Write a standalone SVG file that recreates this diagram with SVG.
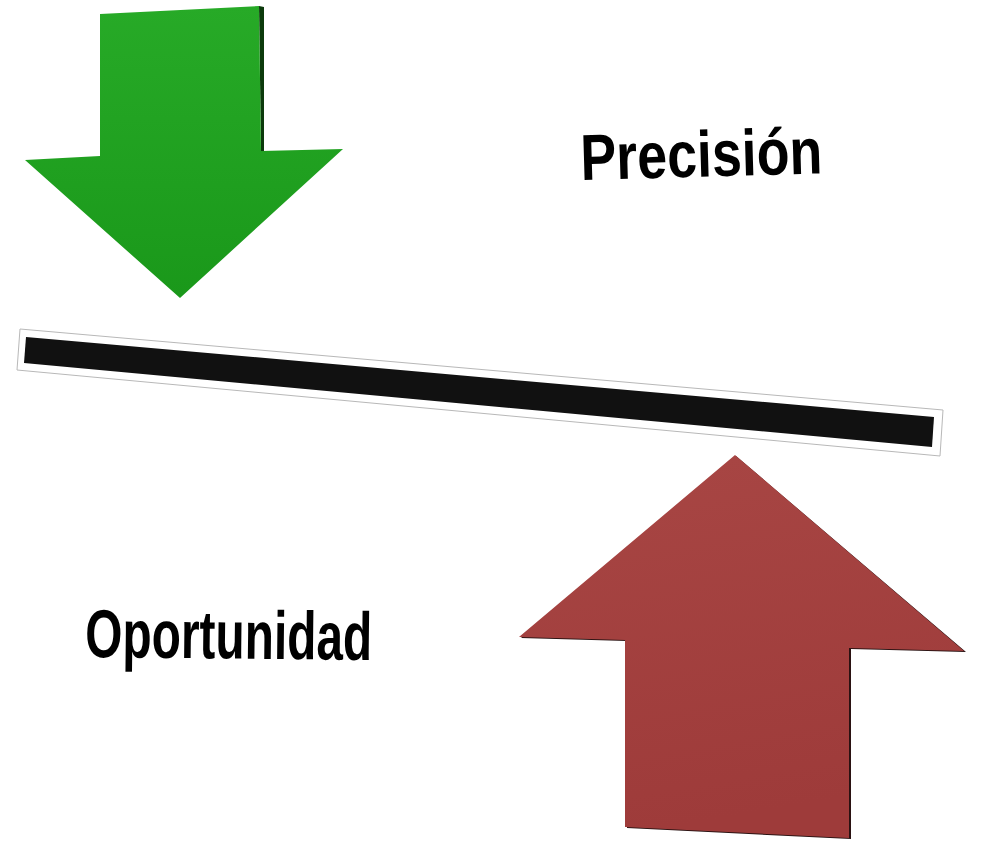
<svg xmlns="http://www.w3.org/2000/svg" width="986" height="843" viewBox="0 0 986 843">
  <defs>
    <linearGradient id="gGreen" x1="0" y1="0" x2="0" y2="1">
      <stop offset="0" stop-color="#27aa27"/>
      <stop offset="1" stop-color="#1a981a"/>
    </linearGradient>
    <linearGradient id="gRed" x1="0" y1="0" x2="0.2" y2="1">
      <stop offset="0" stop-color="#a84644"/>
      <stop offset="1" stop-color="#9e3b3a"/>
    </linearGradient>
  </defs>
  <style>
    .lbl { font-family: "Liberation Sans", Arial, sans-serif; font-weight: bold; fill: #000; }
  </style>
  <rect width="986" height="843" fill="#ffffff"/>

  <g id="arrow-down">
    <polygon points="259,6 264,7 264,151 261,151" fill="#0c3a0c"/>
    <polygon points="100,14 259,6 261,151 343,149 180,298 25,160 100,156" fill="url(#gGreen)"/>
  </g>

  <g id="bar">
    <polygon points="20,329 943,410 940,456 17,370" fill="#ffffff" stroke="#b8b8b8" stroke-width="1"/>
    <polygon points="26,337 934,417 932,447 24,363" fill="#111111"/>
  </g>

  <g id="arrow-up">
    <polygon points="736,456 966,652 851,649 851,839 627,828 627,641 521,638" fill="#2a1212"/>
    <polygon points="735,455 964,651 849,648 849,838 625,827 625,640 519,637" fill="url(#gRed)"/>
  </g>

  <g id="label-precision">
    <text class="lbl" x="581" y="180" font-size="65" textLength="242" lengthAdjust="spacingAndGlyphs" transform="rotate(-1.6 581 180)">Precisión</text>
  </g>

  <g id="label-oportunidad">
    <text class="lbl" x="85" y="657" font-size="68" textLength="287" lengthAdjust="spacingAndGlyphs" transform="rotate(0.6 85 657)">Oportunidad</text>
  </g>
</svg>
